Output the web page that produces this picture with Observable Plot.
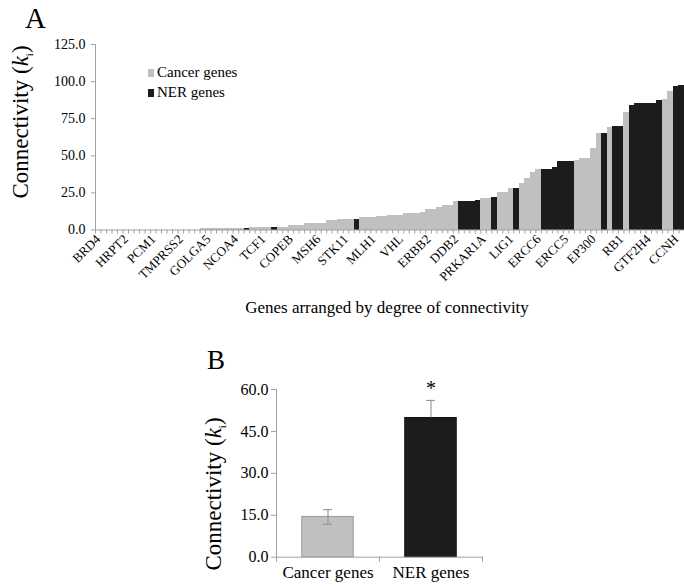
<!DOCTYPE html>
<html><head><meta charset="utf-8">
<script src="https://cdn.jsdelivr.net/npm/d3@7"></script>
<script src="https://cdn.jsdelivr.net/npm/@observablehq/plot@0.6"></script>
<style>
body{margin:0;background:#fff;}
#root{position:relative;width:684px;height:586px;font-family:"Liberation Serif","Times New Roman",serif;color:#000;overflow:hidden;background:#fff}
.abs{position:absolute;white-space:nowrap;line-height:1}
.ytitle{transform:translate(-50%,-50%) rotate(-90deg);font-size:23px}
.sw{position:absolute;width:6px;height:8px}
</style></head><body>
<div id="root">
  <div id="plotA" class="abs" style="left:0;top:0"></div>
  <div id="plotB" class="abs" style="left:0;top:360px"></div>
  <div class="abs" style="left:25px;top:4px;font-size:29px">A</div>
  <div class="abs" style="left:207px;top:347px;font-size:27px">B</div>
  <div class="abs ytitle" style="left:22px;top:122px">Connectivity (<i>k</i><sub style="font-size:11px">i</sub>)</div>
  <div class="abs ytitle" style="left:215px;top:494px">Connectivity (<i>k</i><sub style="font-size:11px">i</sub>)</div>
  <div class="abs" style="left:387px;top:299px;font-size:17px;transform:translateX(-50%)">Genes arranged by degree of connectivity</div>
  <div id="legend"></div>
</div>
<script>
// ---- Panel A data: connectivity of each gene, sorted ascending ----
const valuesA = [
  0,0,0,0,0,0,0,0,0,0, 0,0,0,0,0,0,0,0,0,
  0.7,0.7,0.7,0.7,0.7,0.7,0.7,0.7,
  1.0,
  1.8,1.8,1.8,1.8,
  2.0,
  2.0,2.0,
  3.0,3.0,3.0,
  4.5,4.5,4.5,4.5,
  6.2,6.2,
  6.9,6.9,6.9,
  7.0,
  8.5,8.5,8.5,
  9.0,9.0,
  10,10,10,
  11,11,11,
  12,
  14,14,
  15,
  16.5,16.5,
  19,
  19,19,19,
  20,
  21,21,
  22,
  25,25,
  28,
  28,
  31,35,38.5,41,
  40.5,40.5,
  42,
  46,46,46,
  46.5,48,48.5,55,65,
  65,
  69,
  69.5,70,
  79.5,
  84,
  85,85,85,85,
  87,
  88,93,
  97,97.5
];
// indices (in sorted order) of the NER genes; all others are cancer genes
const nerIdx = [27,32,47,66,67,68,69,72,76,81,82,83,84,85,86,92,94,95,97,98,99,100,101,102,105,106];
const groups = ["Cancer genes","NER genes"];
const groupColors = ["#c0c0c0","#1c1c1c"];
const labelIdx = [0,5,10,15,20,25,30,35,40,45,50,55,60,65,70,75,80,85,90,95,100,105];
const labelNames = ["BRD4","HRPT2","PCM1","TMPRSS2","GOLGA5","NCOA4","TCF1","COPEB","MSH6","STK11","MLH1","VHL","ERBB2","DDB2","PRKAR1A","LIG1","ERCC6","ERCC5","EP300","RB1","GTF2H4","CCNH"];
const yTicksA = [0,25,50,75,100,125];

// ---- Panel B data: mean connectivity ± SE ----
const catsB = ["Cancer genes","NER genes"];
const meansB = [14.4, 49.8];
const errsB = [2.6, 6.3];
const sigB = [false, true];
const yTicksB = [0,15,30,45,60];

const axisGray = "#a0a0a0";
const errGray = "#8c8c8c";
const n = valuesA.length;
const barsA = valuesA.map((v,i)=>({i, v, g: nerIdx.includes(i) ? groups[1] : groups[0]}));

const plotA = Plot.plot({
  width:684, height:290, marginLeft:95, marginRight:0, marginTop:44, marginBottom:60.5,
  style:{fontFamily:"Liberation Serif, Times New Roman, serif", fontSize:"14px", color:"#000", background:"transparent", overflow:"visible"},
  x:{domain:[0,n], axis:null},
  y:{domain:[0,125], axis:null},
  color:{domain:groups, range:groupColors},
  marks:[
    Plot.rectY(barsA, {x1:"i", x2:d=>d.i+1, y:"v", fill:"g", shapeRendering:"crispEdges"}),
    Plot.ruleX([0], {stroke:axisGray}),
    Plot.ruleY([0], {stroke:axisGray}),
    Plot.axisY({ticks:yTicksA, tickFormat:d3.format(".1f"), tickSize:4, tickPadding:6, stroke:axisGray, fill:"#000", fontSize:14, label:null}),
    Plot.axisX({ticks:d3.range(n+1), tickSize:4, tickFormat:()=>"", stroke:axisGray, label:null}),
    Plot.axisX({ticks:labelIdx.map(i=>i+0.5), tickFormat:d=>labelNames[labelIdx.indexOf(d-0.5)], tickRotate:-45, tickSize:0, tickPadding:7, fill:"#000", fontSize:13, label:null})
  ]
});
document.getElementById("plotA").appendChild(plotA);

const dataB = catsB.map((c,i)=>({i, c, mean:meansB[i], err:errsB[i], sig:sigB[i]}));
// lower whisker is hidden inside the dark bar
const lowerStroke = d => d.i === 1 ? groupColors[1] : errGray;
const plotB = Plot.plot({
  width:684, height:226, marginLeft:276, marginRight:202, marginTop:29, marginBottom:29.3,
  style:{fontFamily:"Liberation Serif, Times New Roman, serif", fontSize:"16px", color:"#000", background:"transparent", overflow:"visible"},
  x:{domain:[0,catsB.length], axis:null},
  y:{domain:[0,60], axis:null},
  color:{domain:catsB, range:groupColors},
  marks:[
    Plot.rectY(dataB, {x1:"i", x2:d=>d.i+1, y:"mean", fill:"c", stroke:d=>d.i===0?"#9a9a9a":"#111", insetLeft:25.75, insetRight:25.75}),
    Plot.ruleX(dataB, {x:d=>d.i+0.5, y1:"mean", y2:d=>d.mean+d.err, stroke:errGray}),
    Plot.ruleX(dataB, {x:d=>d.i+0.5, y1:d=>d.mean-d.err, y2:"mean", stroke:lowerStroke}),
    Plot.ruleY(dataB, {y:d=>d.mean+d.err, x1:"i", x2:d=>d.i+1, insetLeft:47, insetRight:47, stroke:errGray}),
    Plot.ruleY(dataB, {y:d=>d.mean-d.err, x1:"i", x2:d=>d.i+1, insetLeft:47, insetRight:47, stroke:lowerStroke}),
    Plot.text(dataB.filter(d=>d.sig), {x:d=>d.i+0.5, y:d=>d.mean+d.err, text:()=>"*", dy:-12, fontSize:20, fill:"#000"}),
    Plot.ruleX([0], {stroke:axisGray}),
    Plot.ruleY([0], {stroke:axisGray}),
    Plot.axisY({ticks:yTicksB, tickFormat:d3.format(".1f"), tickSize:5, tickPadding:3, stroke:axisGray, fill:"#000", fontSize:16, label:null}),
    Plot.axisX({ticks:d3.range(catsB.length+1), tickSize:5, tickFormat:()=>"", stroke:axisGray, label:null}),
    Plot.axisX({ticks:catsB.map((c,i)=>i+0.5), tickFormat:d=>catsB[Math.floor(d)], tickSize:0, tickPadding:9, fill:"#000", fontSize:17, label:null})
  ]
});
document.getElementById("plotB").appendChild(plotB);

// legend for panel A
const leg = document.getElementById("legend");
groups.forEach((g,k)=>{
  const sw = document.createElement("div");
  sw.className = "sw";
  sw.style.left = "148px"; sw.style.top = (69 + 20*k) + "px"; sw.style.background = groupColors[k];
  leg.appendChild(sw);
  const t = document.createElement("div");
  t.className = "abs";
  t.style.left = "157px"; t.style.top = (65 + 20*k) + "px"; t.style.fontSize = "15px";
  t.textContent = g;
  leg.appendChild(t);
});
</script>
</body></html>
